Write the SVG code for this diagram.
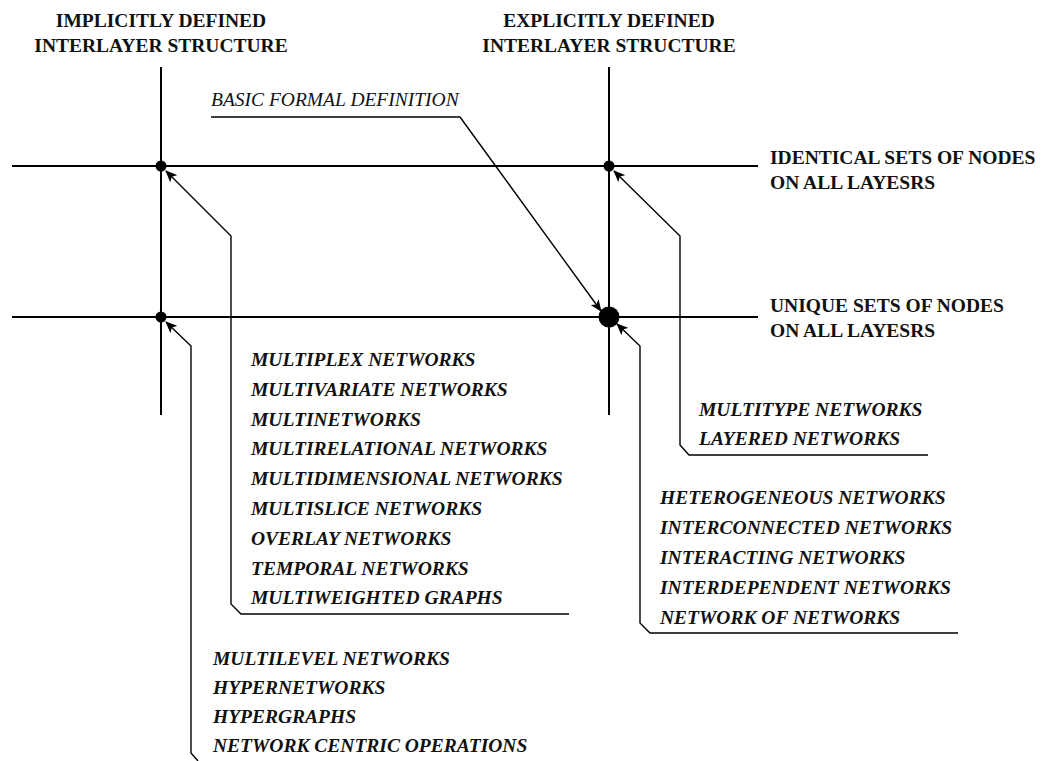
<svg xmlns="http://www.w3.org/2000/svg" width="1042" height="761" viewBox="0 0 1042 761">
  <style>
    .axis { stroke: #000; stroke-width: 2; fill: none; }
    .lead { stroke: #000; stroke-width: 1.4; fill: none; }
    .head { font-family: "Liberation Serif", "Times New Roman", serif; font-size: 19.5px; font-weight: bold; fill: #111; }
    .item { font-family: "Liberation Serif", "Times New Roman", serif; font-size: 19.5px; font-weight: bold; font-style: italic; fill: #111; }
    .note { font-family: "Liberation Serif", "Times New Roman", serif; font-size: 19.5px; font-style: italic; fill: #111; }
  </style>
  <defs>
    <marker id="arrow" viewBox="0 0 12 10" refX="11" refY="5" markerWidth="12" markerHeight="10" markerUnits="userSpaceOnUse" orient="auto">
      <path d="M0,0 L12,5 L0,10 L3,5 z" fill="#000"/>
    </marker>
  </defs>

  <!-- column headers -->
  <g id="header-implicit">
    <text class="head" x="161" y="27" text-anchor="middle">IMPLICITLY DEFINED</text>
    <text class="head" x="161" y="52" text-anchor="middle">INTERLAYER STRUCTURE</text>
  </g>
  <g id="header-explicit">
    <text class="head" x="609" y="27" text-anchor="middle">EXPLICITLY DEFINED</text>
    <text class="head" x="609" y="52" text-anchor="middle">INTERLAYER STRUCTURE</text>
  </g>

  <!-- row headers -->
  <g id="row-identical">
    <text class="head" x="770" y="164">IDENTICAL SETS OF NODES</text>
    <text class="head" x="770" y="189">ON ALL LAYESRS</text>
  </g>
  <g id="row-unique">
    <text class="head" x="770" y="312">UNIQUE SETS OF NODES</text>
    <text class="head" x="770" y="337">ON ALL LAYESRS</text>
  </g>

  <!-- grid axes -->
  <g id="axes">
    <line class="axis" x1="12" y1="166" x2="758" y2="166"/>
    <line class="axis" x1="12" y1="317" x2="758" y2="317"/>
    <line class="axis" x1="161" y1="67" x2="161" y2="415"/>
    <line class="axis" x1="609" y1="67" x2="609" y2="415"/>
  </g>

  <!-- intersection nodes -->
  <g id="node-implicit-identical"><circle cx="161" cy="166" r="5.5" fill="#000"/></g>
  <g id="node-explicit-identical"><circle cx="609" cy="166" r="5.5" fill="#000"/></g>
  <g id="node-implicit-unique"><circle cx="161" cy="317" r="5.5" fill="#000"/></g>
  <g id="node-explicit-unique"><circle cx="609" cy="317" r="10.5" fill="#000"/></g>

  <!-- leader lines -->
  <g id="connectors">
    <polyline class="lead" points="211,117 460,117 601,311" marker-end="url(#arrow)"/>
    <polyline class="lead" points="569,614 241,614 231,604 231,236 166,171" marker-end="url(#arrow)"/>
    <polyline class="lead" points="198,761 191,753 191,346 166,322" marker-end="url(#arrow)"/>
    <polyline class="lead" points="928,455 689,455 680,445 680,236 614,171" marker-end="url(#arrow)"/>
    <polyline class="lead" points="958,633 650,633 640,623 640,346 617,324" marker-end="url(#arrow)"/>
  </g>

  <!-- annotation label -->
  <g id="label-basic">
    <text class="note" x="211" y="106">BASIC FORMAL DEFINITION</text>
  </g>

  <!-- network type lists -->
  <g id="list-multiplex">
    <text class="item" x="251" y="366">MULTIPLEX NETWORKS</text>
    <text class="item" x="251" y="396">MULTIVARIATE NETWORKS</text>
    <text class="item" x="251" y="426">MULTINETWORKS</text>
    <text class="item" x="251" y="455">MULTIRELATIONAL NETWORKS</text>
    <text class="item" x="251" y="485">MULTIDIMENSIONAL NETWORKS</text>
    <text class="item" x="251" y="515">MULTISLICE NETWORKS</text>
    <text class="item" x="251" y="545">OVERLAY NETWORKS</text>
    <text class="item" x="251" y="575">TEMPORAL NETWORKS</text>
    <text class="item" x="251" y="604">MULTIWEIGHTED GRAPHS</text>
  </g>
  <g id="list-multilevel">
    <text class="item" x="213" y="665">MULTILEVEL NETWORKS</text>
    <text class="item" x="213" y="694">HYPERNETWORKS</text>
    <text class="item" x="213" y="723">HYPERGRAPHS</text>
    <text class="item" x="213" y="752">NETWORK CENTRIC OPERATIONS</text>
  </g>
  <g id="list-multitype">
    <text class="item" x="699" y="416">MULTITYPE NETWORKS</text>
    <text class="item" x="699" y="445">LAYERED NETWORKS</text>
  </g>
  <g id="list-interconnected">
    <text class="item" x="660" y="504">HETEROGENEOUS NETWORKS</text>
    <text class="item" x="660" y="534">INTERCONNECTED NETWORKS</text>
    <text class="item" x="660" y="564">INTERACTING NETWORKS</text>
    <text class="item" x="660" y="594">INTERDEPENDENT NETWORKS</text>
    <text class="item" x="660" y="624">NETWORK OF NETWORKS</text>
  </g>
</svg>
